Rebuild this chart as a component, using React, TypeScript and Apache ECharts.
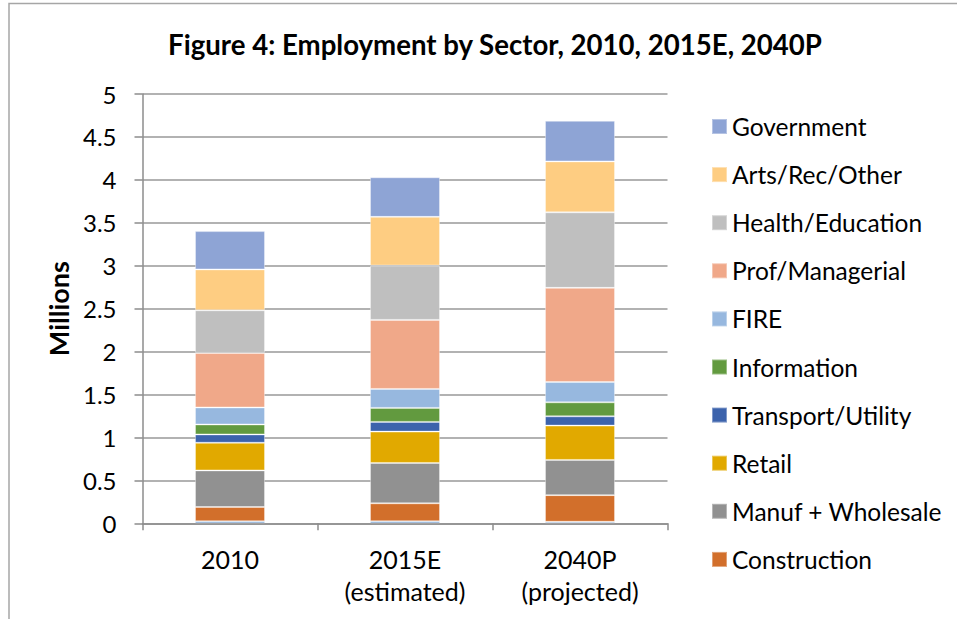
import React, { useEffect, useRef } from "react";
import * as echarts from "echarts";

const categories = ["2010", "2015E\n(estimated)", "2040P\n(projected)"];

const seriesNames = [
  "Natural Resources",
  "Construction",
  "Manuf + Wholesale",
  "Retail",
  "Transport/Utility",
  "Information",
  "FIRE",
  "Prof/Managerial",
  "Health/Education",
  "Arts/Rec/Other",
  "Government",
];

const resources = [0.023, 0.023, 0.018];
const construction = [0.167, 0.21, 0.31];
const manufWholesale = [0.426, 0.47, 0.41];
const retail = [0.322, 0.365, 0.4];
const transportUtility = [0.097, 0.113, 0.108];
const information = [0.116, 0.163, 0.163];
const fire = [0.198, 0.221, 0.236];
const profManagerial = [0.635, 0.804, 1.097];
const healthEducation = [0.497, 0.633, 0.88];
const artsRecOther = [0.476, 0.567, 0.593];
const government = [0.446, 0.461, 0.473];

const seriesValues = [
  resources,
  construction,
  manufWholesale,
  retail,
  transportUtility,
  information,
  fire,
  profManagerial,
  healthEducation,
  artsRecOther,
  government,
];

const seriesColors = [
  "#4A7EBB",
  "#D26F2B",
  "#919191",
  "#E1A900",
  "#3C63AC",
  "#629A3F",
  "#97B8DF",
  "#F0A889",
  "#BFBFBF",
  "#FECD82",
  "#8EA4D5",
];

const legendOrder = [
  "Government",
  "Arts/Rec/Other",
  "Health/Education",
  "Prof/Managerial",
  "FIRE",
  "Information",
  "Transport/Utility",
  "Retail",
  "Manuf + Wholesale",
  "Construction",
];

const yTicks = { min: 0, max: 5, interval: 0.5 };

const FONT = "Lato, 'Open Sans', sans-serif";

export default function App() {
  const ref = useRef<HTMLDivElement>(null);

  useEffect(() => {
    document.body.style.margin = "0";
    if (!ref.current) return;
    const chart = echarts.init(ref.current, null, { renderer: "svg" });
    chart.setOption({
      animation: false,
      backgroundColor: "#ffffff",
      textStyle: { fontFamily: FONT, color: "#000" },
      graphic: [
        {
          type: "rect",
          shape: { x: 9, y: 3.5, width: 960, height: 640 },
          style: { fill: "none", stroke: "#A6A6A6", lineWidth: 1.5 },
          silent: true,
        },
        {
          type: "text",
          x: 495,
          y: 44,
          style: {
            text: "Figure 4: Employment by Sector, 2010, 2015E, 2040P",
            fontFamily: FONT,
            fontWeight: "bold",
            fontSize: 27.6,
            fill: "#000",
            align: "center",
            verticalAlign: "middle",
          },
        },
      ],
      legend: {
        orient: "vertical",
        left: 706,
        top: 109,
        padding: 5,
        itemWidth: 15,
        itemHeight: 15,
        itemGap: 23.1,
        icon: "rect",
        data: legendOrder,
        textStyle: {
          fontFamily: FONT,
          fontSize: 24.5,
          lineHeight: 24,
          color: "#000",
        },
        selectedMode: false,
      },
      grid: {
        left: 142.5,
        right: 289.5,
        top: 94,
        bottom: 95.7,
        containLabel: false,
      },
      xAxis: {
        type: "category",
        data: categories,
        axisLine: { lineStyle: { color: "#8C8C8C", width: 1.5 } },
        axisTick: { show: true, length: 7, lineStyle: { color: "#8C8C8C", width: 1.5 } },
        axisLabel: {
          fontFamily: FONT,
          fontSize: 25,
          lineHeight: 32,
          color: "#000",
          margin: 20,
        },
      },
      yAxis: {
        type: "value",
        min: yTicks.min,
        max: yTicks.max,
        interval: yTicks.interval,
        name: "Millions",
        nameLocation: "middle",
        nameGap: 68.5,
        nameTextStyle: {
          fontFamily: FONT,
          fontWeight: "bold",
          fontSize: 27,
          color: "#000",
        },
        axisLine: { show: true, lineStyle: { color: "#8C8C8C", width: 1.5 } },
        axisTick: { show: true, length: 8, lineStyle: { color: "#8C8C8C", width: 1.5 } },
        axisLabel: {
          fontFamily: FONT,
          fontSize: 24,
          color: "#000",
          margin: 26,
        },
        splitLine: { lineStyle: { color: "#989898", width: 1.5 } },
      },
      series: seriesNames.map((name, i) => ({
        name,
        type: "bar",
        stack: "total",
        barWidth: "40%",
        data: seriesValues[i],
        itemStyle: {
          color: seriesColors[i],
          borderColor: "rgba(255,255,255,0.35)",
          borderWidth: 1,
        },
        emphasis: { disabled: true },
      })),
    });
    return () => chart.dispose();
  }, []);

  return <div ref={ref} style={{ width: 957, height: 619 }} />;
}
